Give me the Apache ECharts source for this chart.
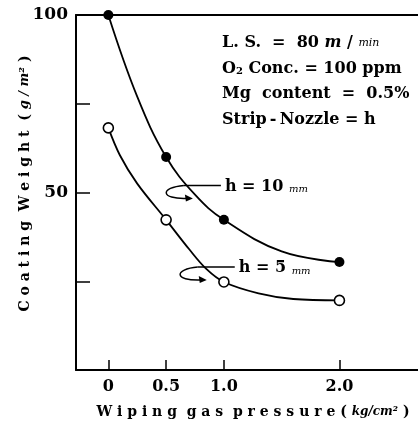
<!DOCTYPE html>
<html><head><meta charset="utf-8">
<script src="https://cdn.jsdelivr.net/npm/echarts@6/dist/echarts.min.js"></script>
<style>html,body{margin:0;padding:0;background:#fff}#c{width:418px;height:425px}</style>
</head><body><div id="c"></div>
<script>
// Measured points (markers)
const pressure = [0, 0.5, 1.0, 2.0];
const weightH10 = [100, 60, 42.3, 30.4];
const weightH5 = [68.2, 42.3, 24.8, 19.6];
// Fitted curves
const curveH10X = [0, 0.25, 0.5, 0.75, 1.0, 1.5, 2.0];
const curveH10Y = [100, 77, 60, 49.4, 42.3, 33.4, 30.4];
const curveH5X = [0, 0.1, 0.25, 0.5, 0.7, 0.85, 1.0, 1.3, 1.6, 2.0];
const curveH5Y = [68.2, 60.5, 52.5, 42.3, 34, 28.4, 24.8, 21.6, 20, 19.6];
const xTickValues = [0, 0.5, 1.0, 2.0];
const yTickValues = [25, 50, 75];
const yLabelValues = [50, 100];
const conditionLines = [
  'L. S.  =  80 {it|m} / {sm|min}',
  'O{sub|2} Conc. = 100 ppm',
  'Mg  content  =  0.5%',
  'Strip\u2009-\u2009Nozzle = h'
];

const FONT = 'DejaVu Serif';
const chart = echarts.init(document.getElementById('c'), null, {renderer: 'canvas'});
const toPairs = (xs, ys) => xs.map((x, i) => [x, ys[i]]);

chart.setOption({
  animation: false,
  backgroundColor: '#fff',
  grid: {left: 76, right: 0, top: 15, bottom: 55},
  xAxis: [{
    type: 'value', min: -0.28, max: 2.68, position: 'bottom',
    name: 'W i p i n g  g a s  p r e s s u r e ( {it|kg/cm²} )',
    nameLocation: 'middle', nameGap: 35,
    nameTextStyle: {fontFamily: FONT, fontWeight: 'bold', fontSize: 14, color: '#000', padding: [0, 0, 0, 12],
      rich: {it: {fontFamily: FONT, fontStyle: 'italic', fontSize: 12, color: '#000'}}},
    axisLine: {onZero: false, lineStyle: {color: '#000', width: 2}},
    axisTick: {show: true, inside: true, length: 10, customValues: xTickValues, lineStyle: {color: '#000', width: 1.5}},
    axisLabel: {customValues: xTickValues, margin: 9, fontFamily: FONT, fontWeight: 'bold', fontSize: 16, color: '#000',
      formatter: v => v === 0 ? '0' : v.toFixed(1)},
    splitLine: {show: false}
  }, {
    type: 'value', min: -0.28, max: 2.68, position: 'top',
    axisLine: {show: true, onZero: false, lineStyle: {color: '#000', width: 2}},
    axisTick: {show: false}, axisLabel: {show: false}, splitLine: {show: false}
  }],
  yAxis: {
    type: 'value', min: 0, max: 100,
    name: 'C o a t i n g  W e i g h t  ( {it|g / m²} )',
    nameLocation: 'middle', nameGap: 44, nameRotate: 90, nameMoveOverlap: false,
    nameTextStyle: {fontFamily: FONT, fontWeight: 'bold', fontSize: 14, color: '#000', padding: [0, 0, 0, 18],
      rich: {it: {fontFamily: FONT, fontStyle: 'italic', fontSize: 13, color: '#000'}}},
    axisLine: {show: true, onZero: false, lineStyle: {color: '#000', width: 2}},
    axisTick: {show: true, inside: true, length: 14, customValues: yTickValues, lineStyle: {color: '#000', width: 1.5}},
    axisLabel: {customValues: yLabelValues, margin: 8, fontFamily: FONT, fontWeight: 'bold', fontSize: 17, color: '#000'},
    splitLine: {show: false}
  },
  series: [{
    name: 'h = 10 mm curve', type: 'line', smooth: 0.4, data: toPairs(curveH10X, curveH10Y),
    showSymbol: false, lineStyle: {color: '#000', width: 1.8}, z: 2, silent: true
  }, {
    name: 'h = 5 mm curve', type: 'line', smooth: 0.35, data: toPairs(curveH5X, curveH5Y),
    showSymbol: false, lineStyle: {color: '#000', width: 1.8}, z: 2, silent: true
  }, {
    name: 'h = 10 mm', type: 'scatter', data: toPairs(pressure, weightH10),
    symbol: 'circle', symbolSize: 10, itemStyle: {color: '#000', borderColor: '#000', borderWidth: 0, opacity: 1}, z: 3
  }, {
    name: 'h = 5 mm', type: 'scatter', data: toPairs(pressure, weightH5),
    symbol: 'circle', symbolSize: 10, itemStyle: {color: '#fff', borderColor: '#000', borderWidth: 1.6, opacity: 1}, z: 3
  }]
});

function annotation(anchorData, label) {
  const p = chart.convertToPixel({gridIndex: 0}, anchorData);
  const x = p[0], y = p[1];
  return [
    {type: 'line', shape: {x1: x - 40, y1: y, x2: x - 3, y2: y}, style: {stroke: '#000', lineWidth: 1.5}},
    {type: 'bezierCurve', shape: {x1: x - 40, y1: y, cpx1: x - 64, cpy1: y + 2, cpx2: x - 64, cpy2: y + 14, x2: x - 37, y2: y + 13},
      style: {stroke: '#000', lineWidth: 1.5, fill: null}},
    {type: 'polygon', shape: {points: [[x - 31, y + 13], [x - 39, y + 9], [x - 38, y + 16]]}, style: {fill: '#000'}},
    {type: 'text', x: x + 1, y: y + 1, style: {text: label, fontFamily: FONT, fontWeight: 'bold', fontSize: 16, fill: '#000',
      verticalAlign: 'middle', rich: {sm: {fontFamily: FONT, fontStyle: 'italic', fontSize: 10, fill: '#000', verticalAlign: 'bottom'}}}}
  ];
}

const graphics = [];
conditionLines.forEach((t, i) => {
  graphics.push({type: 'text', x: 222, y: 43 + i * 25.5, style: {
    text: t, fontFamily: FONT, fontWeight: 'bold', fontSize: 16, fill: '#000', verticalAlign: 'middle',
    rich: {
      it: {fontFamily: FONT, fontStyle: 'italic', fontWeight: 'bold', fontSize: 16, fill: '#000'},
      sm: {fontFamily: FONT, fontStyle: 'italic', fontSize: 11, fill: '#000'},
      sub: {fontFamily: FONT, fontWeight: 'bold', fontSize: 10, fill: '#000', padding: [6, 0, 0, 0]}
    }}});
});
graphics.push(...annotation([1.0, 52], 'h = 10 {sm|mm}'));
graphics.push(...annotation([1.12, 29], 'h = 5 {sm|mm}'));
chart.setOption({graphic: graphics});
</script></body></html>
